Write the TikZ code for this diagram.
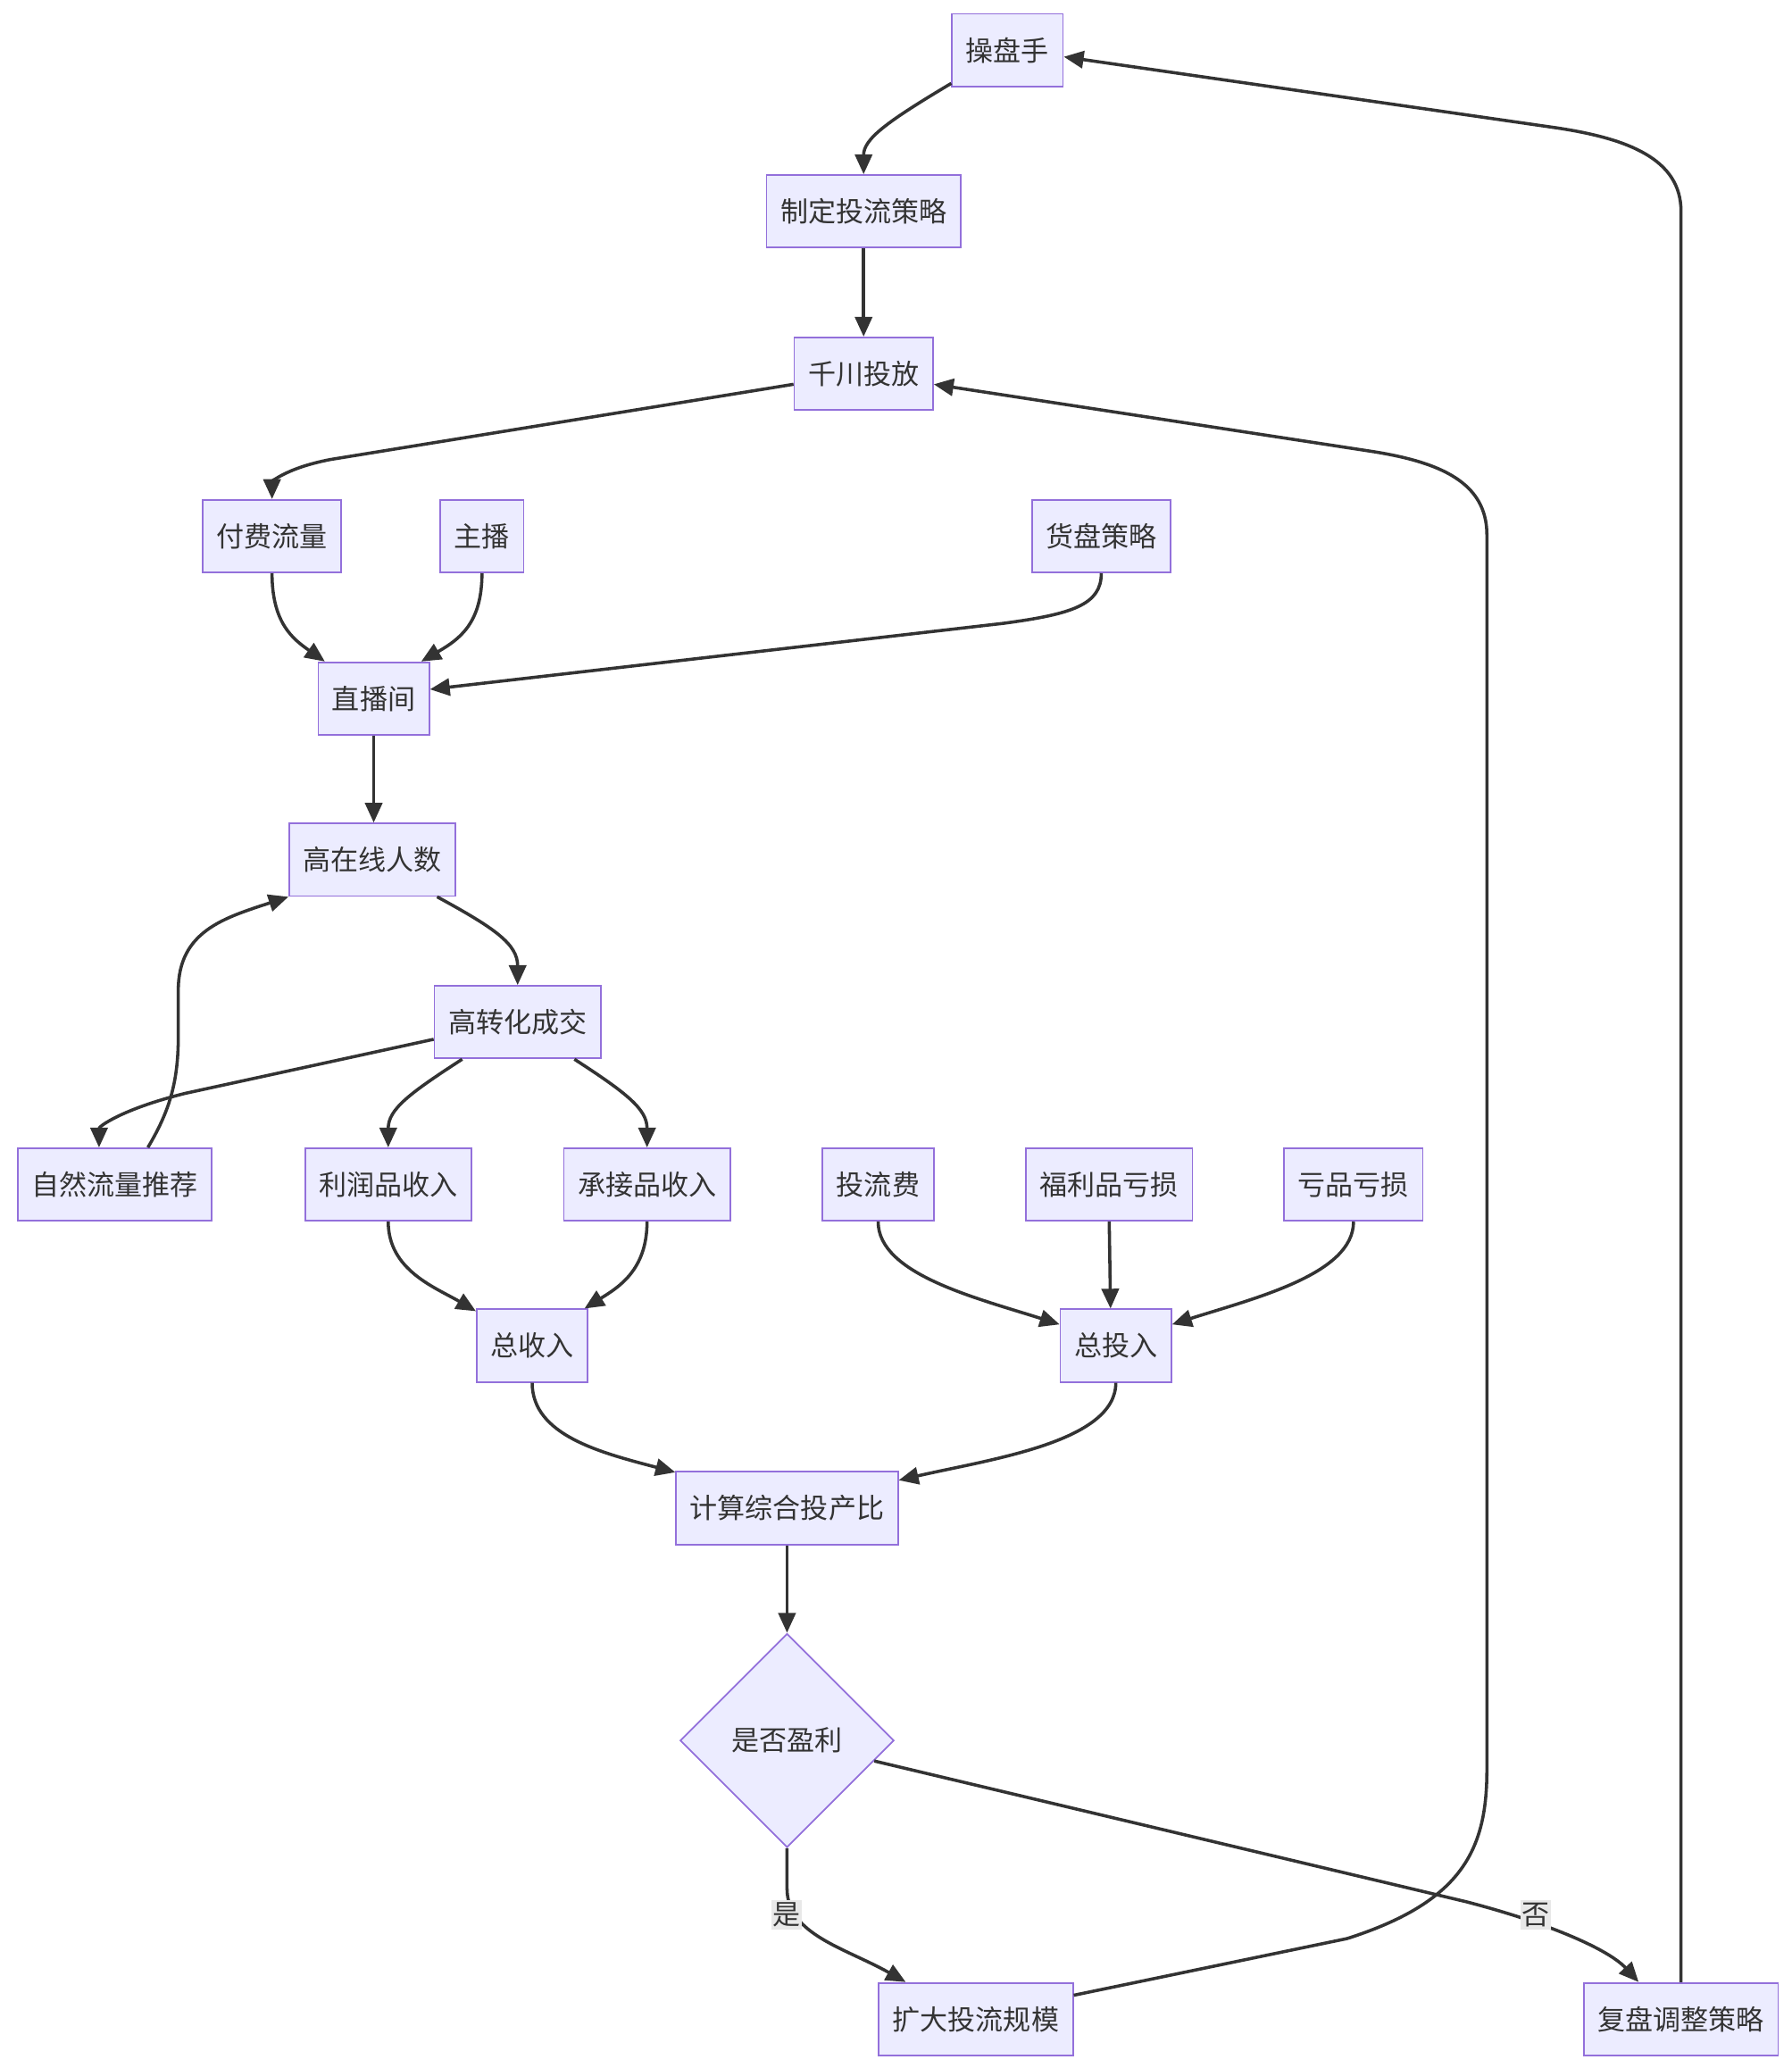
\documentclass[tikz,border=0pt]{standalone}
\usepackage{fontspec}
\newfontfamily\cjk{Noto Sans CJK SC}
\usetikzlibrary{shapes.geometric,arrows.meta,calc}
\definecolor{boxfill}{HTML}{ECECFF}
\definecolor{boxline}{HTML}{9370DB}
\definecolor{ink}{HTML}{333333}
\definecolor{lblbg}{HTML}{E8E8E8}
\tikzset{
  box/.style={draw=boxline, fill=boxfill, line width=1.2pt, text=ink,
    font=\cjk\fontsize{21pt}{25pt}\selectfont, inner xsep=10.5pt, inner ysep=0pt,
    minimum height=55pt},
  decision/.style={diamond, aspect=1, draw=boxline, fill=boxfill, line width=1.2pt, text=ink,
    font=\cjk\fontsize{21pt}{25pt}\selectfont, inner sep=0pt, minimum width=162pt, minimum height=162pt},
  link/.style={draw=ink, line width=2.4pt, -{Triangle[length=15pt,width=13pt]}},
  elabel/.style={fill=lblbg, text=ink, font=\cjk\fontsize{21pt}{25pt}\selectfont, inner xsep=1pt, inner ysep=2pt}
}
\begin{document}
\begin{tikzpicture}[x=1pt,y=-1pt]
\useasboundingbox (0,0) rectangle (1357,1566);
\fill[white] (0,0) rectangle (1357,1566);

\node[box] (op)  at (763,38)   {操盘手};
\node[box] (zd)  at (654,160)  {制定投流策略};
\node[box] (qc)  at (654,283)  {千川投放};
\node[box] (ff)  at (206,406)  {付费流量};
\node[box] (zb)  at (365,406)  {主播};
\node[box] (hp)  at (834,406)  {货盘策略};
\node[box] (zbj) at (283,529)  {直播间};
\node[box] (gz)  at (282,651)  {高在线人数};
\node[box] (gzh) at (392,774)  {高转化成交};
\node[box] (zr)  at (87,897)   {自然流量推荐};
\node[box] (lr)  at (294,897)  {利润品收入};
\node[box] (cj)  at (490,897)  {承接品收入};
\node[box] (tl)  at (665,897)  {投流费};
\node[box] (fl)  at (840,897)  {福利品亏损};
\node[box] (kp)  at (1025,897) {亏品亏损};
\node[box] (zsr) at (403,1019) {总收入};
\node[box] (ztr) at (845,1019) {总投入};
\node[box] (js)  at (596,1142) {计算综合投产比};
\node[decision] (yl) at (596,1318) {是否盈利};
\node[box] (kd)  at (739,1529) {扩大投流规模};
\node[box] (fp)  at (1273,1529) {复盘调整策略};

% edges
\draw[link] ([yshift=3pt]op.south west) .. controls (672,92) and (654,105) .. (zd.north);
\draw[link] (zd.south) -- (qc.north);
\draw[link] ([yshift=-8pt]qc.west) -- (250,348) .. controls (214,355) and (206,366) .. (ff.north);
\draw[link] (ff.south) .. controls (206,472) and (222,484) .. ([xshift=-37pt]zbj.north);
\draw[link] (zb.south) .. controls (365,472) and (348,484) .. ([xshift=36pt]zbj.north);
\draw[link] (hp.south) .. controls (834,458) and (812,465) .. (760,472) -- ([yshift=7pt]zbj.east);
\draw[link] (zbj.south) -- (zbj.south |- gz.north);
\draw[link] ([xshift=49pt]gz.south) .. controls (375,703) and (392,715) .. (gzh.north);
\draw[link] ([yshift=-13pt]gzh.west) -- (140,828) .. controls (92,840) and (75,853) .. ([xshift=-12pt]zr.north);
\draw[link] ([xshift=25pt]zr.north) .. controls (128,842) and (135,820) .. (135,785) -- (135,750)
   .. controls (135,705) and (170,695) .. (gz.south west);
\draw[link] ([xshift=-42pt]gzh.south) .. controls (310,828) and (294,840) .. (lr.north);
\draw[link] ([xshift=43pt]gzh.south) .. controls (475,828) and (490,840) .. (cj.north);
\draw[link] (lr.south) .. controls (294,962) and (330,975) .. ([yshift=-2pt]zsr.north west);
\draw[link] (cj.south) .. controls (490,962) and (468,975) .. ([xshift=-3pt]zsr.north east);
\draw[link] (tl.south) .. controls (665,965) and (740,983) .. ([yshift=-12pt]ztr.north west);
\draw[link] (fl.south) -- ([xshift=-4pt]ztr.north);
\draw[link] (kp.south) .. controls (1025,965) and (950,983) .. ([yshift=-12pt]ztr.north east);
\draw[link] (zsr.south) .. controls (403,1087) and (455,1100) .. ([yshift=-1pt]js.north west);
\draw[link] (ztr.south) .. controls (845,1092) and (750,1105) .. ([yshift=-7pt]js.north east);
\draw[link] (js.south) -- (yl.north);
\draw[link] (yl.south) -- (596,1430) .. controls (596,1465) and (640,1475) .. ([xshift=21pt]kd.north west);
\node[elabel] (lyes) at (596,1450) {是};
\draw[link] ($(yl.east)!0.19!(yl.south)$) -- (1110,1440) .. controls (1172,1456) and (1218,1476) .. ([xshift=42pt]fp.north west);
\node[elabel] (lno) at (1163,1450) {否};
\draw[link] ([yshift=-10pt]kd.north east) -- (1020,1468) .. controls (1108,1440) and (1126,1400) .. (1126,1340)
   -- (1126,405) .. controls (1126,365) and (1090,350) .. (1040,342) -- ([yshift=-8pt]qc.east);
\draw[link] (fp.north) -- (1273,160) .. controls (1273,120) and (1232,105) .. (1180,97) -- ([yshift=-5pt]op.east);
\end{tikzpicture}
\end{document}
